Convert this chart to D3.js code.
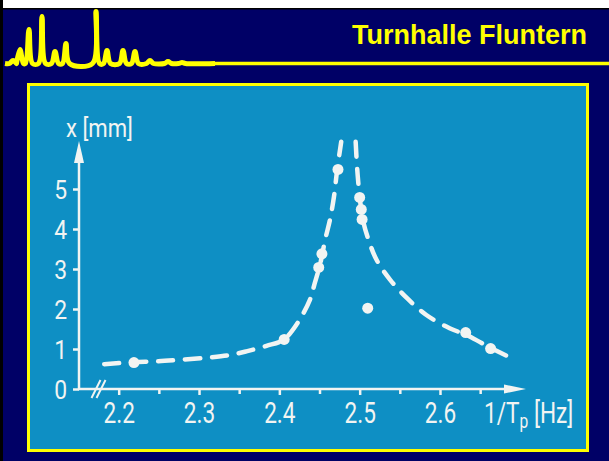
<!DOCTYPE html>
<html>
<head>
<meta charset="utf-8">
<script src="https://cdn.jsdelivr.net/npm/d3@7"></script>
<style>
  html, body { margin: 0; padding: 0; background: #000066; overflow: hidden; }
  svg { display: block; }
</style>
</head>
<body>
<script>
// values
// measured points: frequency 1/Tp [Hz] and amplitude x [mm]
const pointFreq = [2.219, 2.406, 2.449, 2.453, 2.473, 2.500, 2.502, 2.503, 2.510, 2.632, 2.663];
const pointAmp  = [0.66, 1.24, 3.04, 3.38, 5.49, 4.79, 4.49, 4.24, 2.02, 1.41, 1.01];

// dashed resonance curve, left branch
const leftFreq = [2.182, 2.218, 2.247, 2.276, 2.314, 2.339, 2.359, 2.384, 2.405, 2.422, 2.438, 2.444, 2.451, 2.457, 2.463, 2.468, 2.472, 2.477];
const leftAmp  = [0.62, 0.67, 0.69, 0.73, 0.79, 0.85, 0.94, 1.08, 1.23, 1.63, 2.23, 2.64, 3.14, 3.73, 4.23, 4.81, 5.48, 6.18];
// dashed resonance curve, right branch
const rightFreq = [2.495, 2.497, 2.500, 2.504, 2.511, 2.521, 2.538, 2.559, 2.583, 2.612, 2.633, 2.662, 2.693];
const rightAmp  = [6.18, 5.48, 4.81, 4.23, 3.73, 3.23, 2.73, 2.27, 1.85, 1.52, 1.35, 1.04, 0.73];

// ticks
const xMajor = [2.2, 2.3, 2.4, 2.5, 2.6];
const xMinor = [2.25, 2.35, 2.45, 2.55, 2.65];
const yTicks = [0, 1, 2, 3, 4, 5];

// header logo: spectrum peaks (position, height)
const logoPeakX = [13, 20, 29, 42, 55, 66, 96, 107, 123, 135, 150, 168, 182];
const logoPeakH = [3, 14, 34, 47, 12, 20, 52, 13, 13, 12, 3, 2, 1];

const title = "Turnhalle Fluntern";

const W = 609, H = 461;
const navy = "#000066", yellow = "#ffff00", panelBlue = "#0e8fc4", chalk = "#f2f4f2";

const svg = d3.select("body").append("svg")
    .attr("width", W)
    .attr("height", H);

// background
svg.append("rect").attr("width", W).attr("height", H).attr("fill", navy);
svg.append("rect").attr("width", W).attr("height", 8).attr("fill", "#ffffff");
svg.append("rect").attr("y", 8).attr("width", W).attr("height", 1.5).attr("fill", "#000000");
svg.append("rect").attr("width", 3).attr("height", H).attr("fill", "#000000");

// header logo
const logoX = d3.scaleLinear().domain([0, 220]).range([0, 220]);
const logoY = d3.scaleLinear().domain([0, 60]).range([63.5, 3.5]);
let logoPts = [[5, 0]];
logoPeakX.forEach(function (c, i) {
    logoPts.push([c - 3.5, 0], [c, logoPeakH[i]], [c + 3.5, 0]);
});
logoPts.push([215, 0]);

svg.append("path")
    .datum(logoPts)
    .attr("d", d3.line()
        .x(function (d) { return logoX(d[0]); })
        .y(function (d) { return logoY(d[1]); })
        .curve(d3.curveCatmullRom.alpha(0.5)))
    .attr("fill", "none")
    .attr("stroke", yellow)
    .attr("stroke-width", 5)
    .attr("stroke-linejoin", "round");

svg.append("line")
    .attr("x1", 214).attr("x2", W)
    .attr("y1", 63.5).attr("y2", 63.5)
    .attr("stroke", yellow)
    .attr("stroke-width", 3.5);

// title
svg.append("text")
    .text(title)
    .attr("x", 352)
    .attr("y", 44)
    .style("font-family", "'Liberation Sans', Arial, sans-serif")
    .style("font-weight", "bold")
    .style("font-size", "27px")
    .style("fill", yellow);

// panel
svg.append("rect")
    .attr("x", 28.5).attr("y", 84.5)
    .attr("width", 559).attr("height", 366)
    .attr("fill", panelBlue)
    .attr("stroke", yellow)
    .attr("stroke-width", 3);

// scales
const x = d3.scaleLinear().domain([2.2, 2.6]).range([118.7, 440]);
const y = d3.scaleLinear().domain([0, 5]).range([389, 189]);

const chart = svg.append("g");

const fontStack = "Roboto, 'DejaVu Sans', sans-serif";
const squeeze = 0.78;
const ySqueeze = 0.88;

// x axis: minor ticks
chart.append("g")
    .attr("transform", "translate(0,389)")
    .call(d3.axisBottom(x).tickValues(xMinor).tickSize(5).tickFormat(""))
    .call(function (g) { g.select(".domain").remove(); })
    .selectAll("line")
        .attr("stroke", chalk)
        .attr("stroke-width", 2.5);

// x axis: major ticks and labels
const xAxisG = chart.append("g")
    .attr("transform", "translate(0,389)")
    .call(d3.axisBottom(x).tickValues(xMajor).tickSize(6).tickFormat(d3.format(".1f")))
    .call(function (g) { g.select(".domain").remove(); });
xAxisG.selectAll("line")
    .attr("stroke", chalk)
    .attr("stroke-width", 2.5);
xAxisG.selectAll("text")
    .attr("y", 34)
    .attr("dy", 0)
    .attr("transform", "scale(" + squeeze + ",1)")
    .style("font-family", fontStack)
    .style("font-size", "29px")
    .style("fill", chalk);

// y axis ticks and labels
const yAxisG = chart.append("g")
    .attr("transform", "translate(79,0)")
    .call(d3.axisLeft(y).tickValues(yTicks).tickSize(6).tickFormat(d3.format("d")))
    .call(function (g) { g.select(".domain").remove(); });
yAxisG.selectAll("line")
    .attr("stroke", chalk)
    .attr("stroke-width", 2.5);
yAxisG.selectAll("text")
    .attr("x", -12 / ySqueeze)
    .attr("dy", "0.36em")
    .attr("transform", "scale(" + ySqueeze + ",1)")
    .style("font-family", fontStack)
    .style("font-size", "26px")
    .style("fill", chalk);

// axis lines with arrows
chart.append("line")
    .attr("x1", 79).attr("y1", 390)
    .attr("x2", 79).attr("y2", 158)
    .attr("stroke", chalk).attr("stroke-width", 2.5);
chart.append("path")
    .attr("d", "M79,141 L74,163 L84,163 Z")
    .attr("fill", chalk);

chart.append("line")
    .attr("x1", 78).attr("y1", 389)
    .attr("x2", 510).attr("y2", 389)
    .attr("stroke", chalk).attr("stroke-width", 2.5);
chart.append("path")
    .attr("d", "M526,389 L504,384.5 L504,393.5 Z")
    .attr("fill", chalk);

// axis break marks
[0, 5].forEach(function (dx) {
    chart.append("line")
        .attr("x1", 91.5 + dx).attr("y1", 398)
        .attr("x2", 100.5 + dx).attr("y2", 380)
        .attr("stroke", chalk).attr("stroke-width", 2);
});

// axis titles
chart.append("text")
    .attr("transform", "translate(66,137) scale(0.85,1)")
    .style("font-family", fontStack)
    .style("font-size", "26px")
    .style("fill", chalk)
    .text("x [mm]");

const xTitle = chart.append("text")
    .attr("transform", "translate(484,423) scale(" + squeeze + ",1)")
    .style("font-family", fontStack)
    .style("font-size", "29px")
    .style("fill", chalk);
xTitle.append("tspan").text("1/T");
xTitle.append("tspan").attr("dy", 5).style("font-size", "20px").text("p");
xTitle.append("tspan").attr("dy", -5).text(" [Hz]");

// resonance curve
const curveLine = d3.line()
    .x(function (d) { return x(d[0]); })
    .y(function (d) { return y(d[1]); })
    .curve(d3.curveCatmullRom.alpha(0.5));

[[leftFreq, leftAmp], [rightFreq, rightAmp]].forEach(function (branch) {
    const pts = branch[0].map(function (f, i) { return [f, branch[1][i]]; });
    chart.append("path")
        .datum(pts)
        .attr("d", curveLine)
        .attr("fill", "none")
        .attr("stroke", chalk)
        .attr("stroke-width", 4.5)
        .attr("stroke-linecap", "round")
        .attr("stroke-dasharray", "15,12");
});

// measured points
chart.selectAll(".pt")
    .data(pointFreq)
    .enter()
    .append("circle")
        .attr("class", "pt")
        .attr("cx", function (d) { return x(d); })
        .attr("cy", function (d, i) { return y(pointAmp[i]); })
        .attr("r", 5.5)
        .attr("fill", chalk);
</script>
</body>
</html>
